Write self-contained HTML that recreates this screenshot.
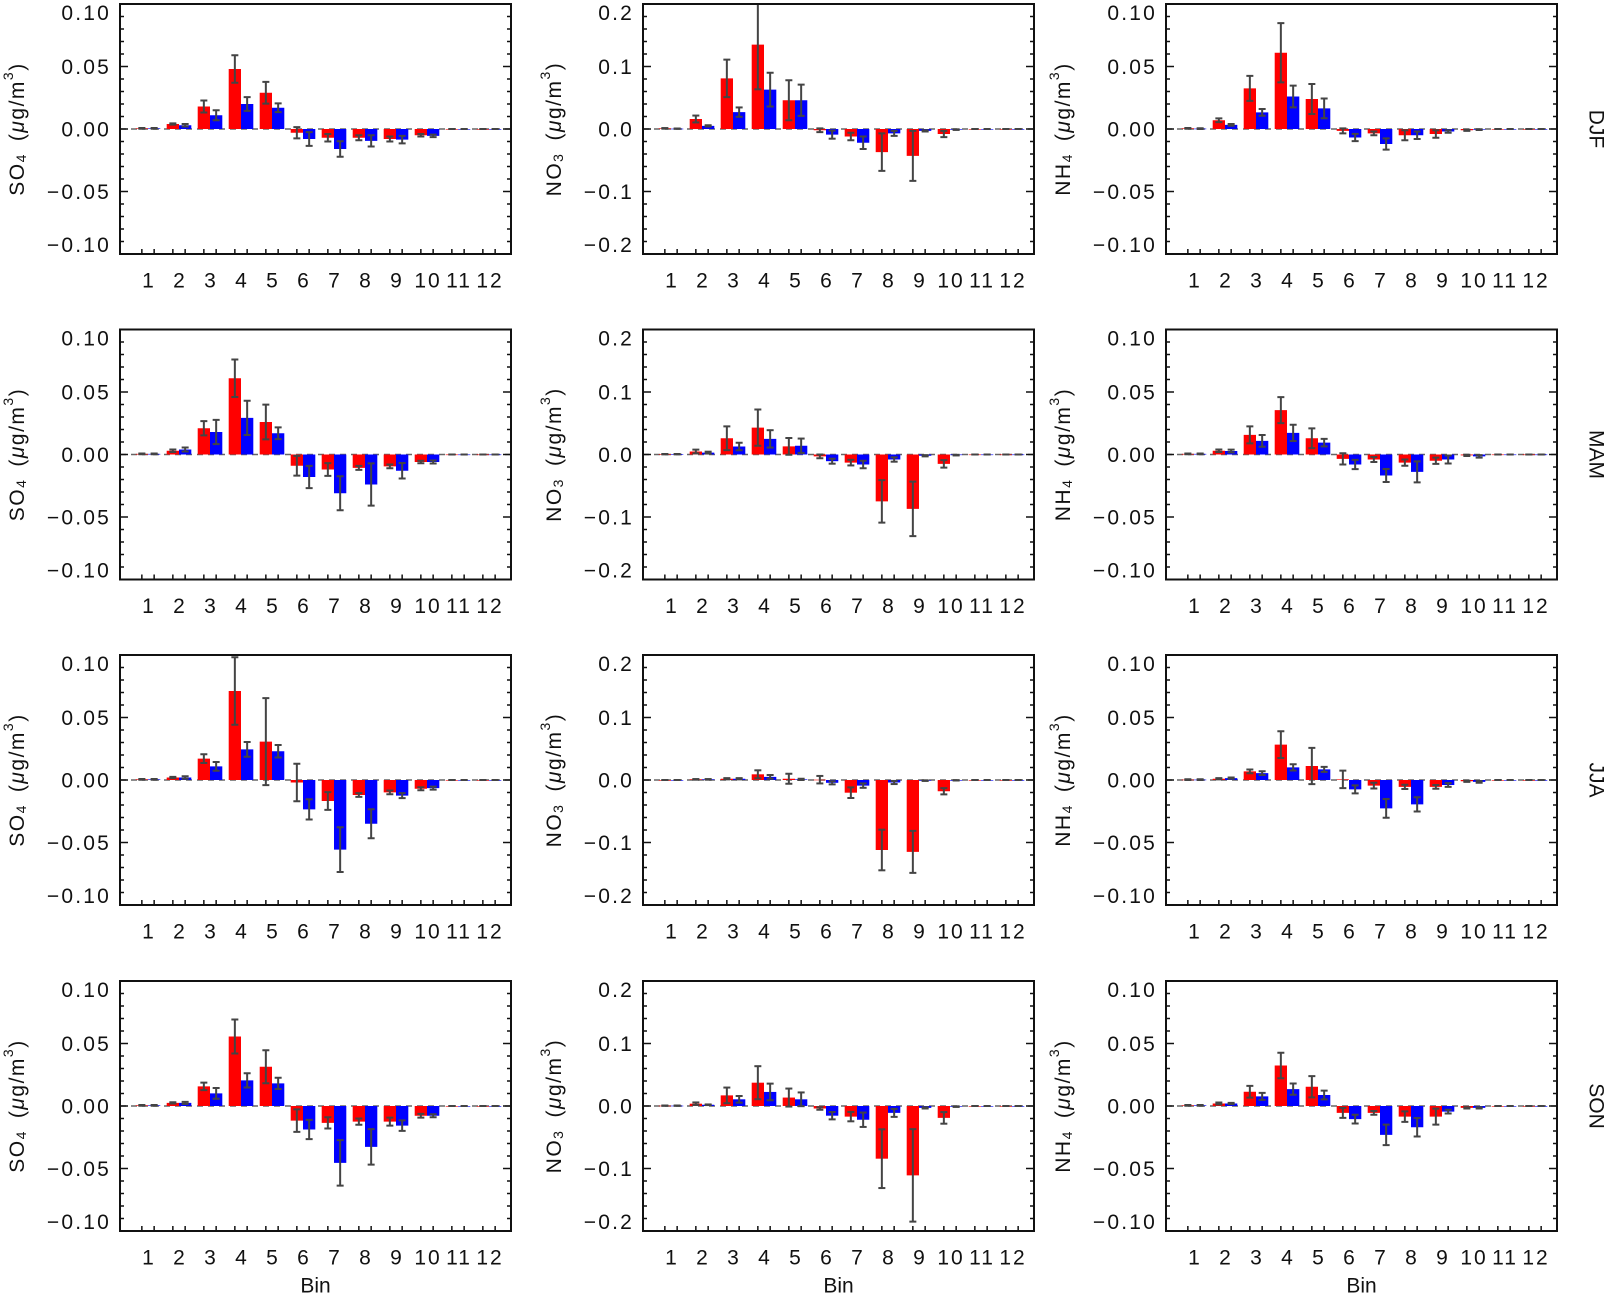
<!DOCTYPE html>
<html><head><meta charset="utf-8"><title>Bin differences by season</title>
<style>
html,body{margin:0;padding:0;background:#fff;}
svg{display:block;font-family:"Liberation Sans",Arial,sans-serif;}
</style></head>
<body>
<svg id="fig" width="1606" height="1295" viewBox="0 0 1606 1295" xmlns="http://www.w3.org/2000/svg"></svg>
<script>
// ---- data (12 bins each) ----
const bins = ["1","2","3","4","5","6","7","8","9","10","11","12"];
const seasons = ["DJF","MAM","JJA","SON"];
const species = ["SO4","NO3","NH4"];
const ticksSmall = [0.10,0.05,0.00,-0.05,-0.10];
const tickLabelsSmall = ["0.10","0.05","0.00","\u22120.05","\u22120.10"];
const ticksLarge = [0.2,0.1,0.0,-0.1,-0.2];
const tickLabelsLarge = ["0.2","0.1","0.0","\u22120.1","\u22120.2"];

const djfSo4Red = [.0005,.004,.018,.048,.029,-.003,-.007,-.007,-.008,-.005,0,0];
const djfSo4RedErr = [.0003,.0005,.0048,.011,.0087,.0045,.003,.002,.002,.001,0,0];
const djfSo4Blue = [.0005,.003,.011,.020,.017,-.008,-.016,-.0095,-.0085,-.0055,0,0];
const djfSo4BlueErr = [.0003,.001,.004,.0055,.0035,.0055,.0062,.0045,.003,.001,0,0];

const djfNo3Red = [.001,.016,.081,.135,.046,-.002,-.012,-.037,-.043,-.008,0,0];
const djfNo3RedErr = [.0005,.0055,.030,.0715,.032,.003,.006,.030,.040,.005,0,0];
const djfNo3Blue = [.0005,.005,.027,.063,.046,-.009,-.022,-.007,-.003,-.001,0,0];
const djfNo3BlueErr = [.0003,.001,.0075,.027,.025,.0065,.010,.004,.001,.0005,0,0];

const djfNh4Red = [.0005,.007,.0325,.061,.024,-.0015,-.0035,-.005,-.004,-.001,0,0];
const djfNh4RedErr = [.0003,.0015,.010,.0237,.012,.002,.0015,.004,.003,.0005,0,0];
const djfNh4Blue = [.0003,.0033,.0133,.026,.0165,-.0068,-.012,-.005,-.002,-.0005,0,0];
const djfNh4BlueErr = [.0003,.0007,.0027,.0087,.0079,.0029,.0045,.003,.001,.0003,0,0];

const mamSo4Red = [.0005,.003,.021,.061,.026,-.009,-.012,-.0107,-.0095,-.006,0,0];
const mamSo4RedErr = [.0003,.001,.0057,.015,.0139,.0079,.0051,.0016,.0015,.001,0,0];
const mamSo4Blue = [.0005,.004,.018,.0293,.017,-.018,-.031,-.024,-.013,-.006,0,0];
const mamSo4BlueErr = [.0003,.0016,.0097,.0137,.0047,.0089,.0136,.0169,.0062,.0012,0,0];

const mamNo3Red = [.0005,.0048,.026,.043,.013,-.003,-.013,-.075,-.087,-.015,0,0];
const mamNo3RedErr = [.0003,.003,.019,.029,.0134,.003,.0045,.034,.0436,.006,0,0];
const mamNo3Blue = [.0005,.003,.0128,.025,.014,-.0107,-.016,-.008,-.002,-.001,0,0];
const mamNo3BlueErr = [.0003,.0015,.006,.0139,.0115,.004,.006,.0035,.001,.0005,0,0];

const mamNh4Red = [.0005,.003,.0157,.0355,.013,-.0035,-.004,-.0065,-.005,-.0007,0,0];
const mamNh4RedErr = [.0003,.001,.0068,.0104,.0079,.0045,.002,.0025,.0025,.0005,0,0];
const mamNh4Blue = [.0005,.0028,.0109,.0173,.0095,-.008,-.0168,-.0139,-.004,-.0015,0,0];
const mamNh4BlueErr = [.0003,.0011,.0047,.0065,.003,.0037,.0052,.0084,.0032,.001,0,0];

const jjaSo4Red = [.0005,.002,.0171,.0712,.0307,-.002,-.0168,-.012,-.0099,-.007,0,0];
const jjaSo4RedErr = [.0003,.0005,.0035,.027,.0348,.015,.0071,.0015,.0015,.0012,0,0];
const jjaSo4Blue = [.0005,.002,.0109,.0245,.023,-.0235,-.0557,-.035,-.0125,-.0065,0,0];
const jjaSo4BlueErr = [.0003,.001,.0035,.0059,.005,.0081,.0179,.0116,.002,.0012,0,0];

const jjaNo3Red = [0,.001,.002,.0091,.002,.0005,-.0203,-.112,-.115,-.018,0,0];
const jjaNo3RedErr = [0,.0005,.001,.0064,.008,.006,.0085,.0325,.0336,.005,0,0];
const jjaNo3Blue = [0,.001,.002,.005,.001,-.0045,-.009,-.004,-.001,-.0005,0,0];
const jjaNo3BlueErr = [0,.0005,.001,.003,.001,.0025,.0035,.0025,.0005,.0003,0,0];

const jjaNh4Red = [.0003,.001,.0069,.0283,.0112,.0005,-.0045,-.0055,-.0055,-.001,0,0];
const jjaNh4RedErr = [.0003,.0005,.0015,.0107,.0145,.007,.0023,.0017,.0015,.0005,0,0];
const jjaNh4Blue = [.0003,.0015,.0055,.0101,.0085,-.0075,-.0227,-.0195,-.004,-.0015,0,0];
const jjaNh4BlueErr = [.0003,.0005,.0015,.0025,.002,.0032,.0075,.0057,.0015,.0007,0,0];

const sonSo4Red = [.0005,.0025,.0157,.0556,.0314,-.0117,-.0135,-.0125,-.0125,-.0078,0,0];
const sonSo4RedErr = [.0003,.0005,.003,.0136,.0132,.009,.0045,.0025,.0032,.0015,0,0];
const sonSo4Blue = [.0005,.0025,.0101,.0205,.0181,-.0188,-.0455,-.0327,-.0157,-.0078,0,0];
const sonSo4BlueErr = [.0003,.0008,.0043,.0057,.0045,.0077,.0182,.0142,.0042,.0012,0,0];

const sonNo3Red = [.0005,.0037,.017,.0373,.0135,-.004,-.017,-.0843,-.111,-.019,0,0];
const sonNo3RedErr = [.0003,.002,.0125,.0264,.0144,.002,.0075,.047,.074,.0093,0,0];
const sonNo3Blue = [.0005,.002,.0107,.0225,.0107,-.0155,-.022,-.011,-.003,-.001,0,0];
const sonNo3BlueErr = [.0003,.0005,.0053,.0133,.011,.0059,.0115,.0064,.001,.0005,0,0];

const sonNh4Red = [.0005,.002,.0114,.0324,.0154,-.0055,-.0055,-.0085,-.0085,-.0015,0,0];
const sonNh4RedErr = [.0003,.0008,.0047,.0102,.0085,.004,.0015,.0042,.0064,.0005,0,0];
const sonNh4Blue = [.0005,.002,.0077,.0135,.0088,-.0105,-.0231,-.017,-.0045,-.0015,0,0];
const sonNh4BlueErr = [.0003,.0005,.0028,.0045,.0035,.0035,.0082,.0074,.0015,.0005,0,0];

const panelData = [
  [[djfSo4Red,djfSo4RedErr,djfSo4Blue,djfSo4BlueErr],[djfNo3Red,djfNo3RedErr,djfNo3Blue,djfNo3BlueErr],[djfNh4Red,djfNh4RedErr,djfNh4Blue,djfNh4BlueErr]],
  [[mamSo4Red,mamSo4RedErr,mamSo4Blue,mamSo4BlueErr],[mamNo3Red,mamNo3RedErr,mamNo3Blue,mamNo3BlueErr],[mamNh4Red,mamNh4RedErr,mamNh4Blue,mamNh4BlueErr]],
  [[jjaSo4Red,jjaSo4RedErr,jjaSo4Blue,jjaSo4BlueErr],[jjaNo3Red,jjaNo3RedErr,jjaNo3Blue,jjaNo3BlueErr],[jjaNh4Red,jjaNh4RedErr,jjaNh4Blue,jjaNh4BlueErr]],
  [[sonSo4Red,sonSo4RedErr,sonSo4Blue,sonSo4BlueErr],[sonNo3Red,sonNo3RedErr,sonNo3Blue,sonNo3BlueErr],[sonNh4Red,sonNh4RedErr,sonNh4Blue,sonNh4BlueErr]]
];

// ---- layout ----
const NS = "http://www.w3.org/2000/svg";
const svg = document.getElementById("fig");
const colX = [120, 643, 1166];
const rowY = [4, 329.5, 655, 981];
const W = 391, H = 250;
const BW = 12.3;

function mk(tag, attrs, parent) {
  const e = document.createElementNS(NS, tag);
  for (const k in attrs) e.setAttribute(k, attrs[k]);
  (parent || svg).appendChild(e);
  return e;
}

function drawPanel(r, c) {
  const x0 = colX[c], y0 = rowY[r];
  const big = (c === 1);
  const ymax = big ? 0.2 : 0.1;
  const ticks = big ? ticksLarge : ticksSmall;
  const labels = big ? tickLabelsLarge : tickLabelsSmall;
  const minorStep = big ? 0.02 : 0.01;
  const yS = v => y0 + H / 2 - v / ymax * (H / 2);
  const xC = i => x0 + 28 + i * 31;
  const g = mk("g", {});
  
  

  const cid = "clip" + r + "_" + c;
  const cp = mk("clipPath", {id: cid}, g);
  mk("rect", {x: x0, y: y0, width: W, height: H}, cp);
  const plot = mk("g", {"clip-path": "url(#" + cid + ")"}, g);

  const zl = mk("line", {x1: x0, x2: x0 + W, y1: yS(0), y2: yS(0), stroke: "#666", "stroke-width": 1.5, "stroke-dasharray": "6 5"}, plot);
  
  

  const d = panelData[r][c];
  const series = [[d[0], d[1], "#ff0000", -BW, "red"], [d[2], d[3], "#0000ff", 0, "blue"]];
  for (const s of series) {
    const vals = s[0];
    for (let i = 0; i < bins.length; i++) {
      const v = vals[i];
      const ya = yS(Math.max(v, 0)), yb = yS(Math.min(v, 0));
      const bar = mk("rect", {x: xC(i) + s[3], y: ya, width: BW, height: Math.max(yb - ya, 0.6), fill: s[2]}, plot);
      
      
    }
  }
  for (const s of series) {
    const vals = s[0], errs = s[1];
    for (let i = 0; i < bins.length; i++) {
      const cx = xC(i) + s[3] + BW / 2;
      const yt = yS(vals[i] + errs[i]), yb = yS(vals[i] - errs[i]);
      const eg = mk("g", {stroke: "#444", "stroke-width": 2}, plot);
      
      
      mk("line", {x1: cx, x2: cx, y1: yt, y2: yb}, eg);
      mk("line", {x1: cx - 3.5, x2: cx + 3.5, y1: yt, y2: yt}, eg);
      mk("line", {x1: cx - 3.5, x2: cx + 3.5, y1: yb, y2: yb}, eg);
    }
  }

  const fr = mk("rect", {x: x0, y: y0, width: W, height: H, fill: "none", stroke: "#111", "stroke-width": 2}, g);
  
  

  const tg = mk("g", {stroke: "#111", "stroke-width": 1.5}, g);
  
  
  const nMinor = Math.round(2 * ymax / minorStep);
  for (let k = 0; k <= nMinor; k++) {
    const v = -ymax + k * minorStep;
    const y = yS(v);
    const isMajor = ticks.some(t => Math.abs(t - v) < 1e-9);
    const len = isMajor ? 8 : 4;
    mk("line", {x1: x0, x2: x0 + len, y1: y, y2: y}, tg);
    mk("line", {x1: x0 + W, x2: x0 + W - len, y1: y, y2: y}, tg);
  }
  const xg = mk("g", {stroke: "#111", "stroke-width": 1.5}, g);
  
  
  for (let i = 0; i < bins.length; i++) {
    for (const off of [-BW / 2, BW / 2]) {
      mk("line", {x1: xC(i) + off, x2: xC(i) + off, y1: y0 + H, y2: y0 + H - 5}, xg);
    }
  }

  for (let k = 0; k < ticks.length; k++) {
    let dy = 1;
    if (k === 0) dy = 9.5;
    if (k === ticks.length - 1) dy = -8.5;
    const t = mk("text", {x: x0 - 9, y: yS(ticks[k]) + dy, "text-anchor": "end", "dominant-baseline": "central", "font-size": 21, "letter-spacing": 2.2, fill: "#111"}, g);
    t.textContent = labels[k];
    
    
  }
  for (let i = 0; i < bins.length; i++) {
    const t = mk("text", {x: xC(i) + 1, y: y0 + H + 27, "text-anchor": "middle", "dominant-baseline": "central", "font-size": 21, "letter-spacing": 2, fill: "#111"}, g);
    t.textContent = bins[i];
    
    
  }
  const tx = x0 - (big ? 89 : 103), ty = y0 + H / 2;
  const yt = mk("text", {x: tx, y: ty, "text-anchor": "middle", "dominant-baseline": "central", "font-size": 21, "letter-spacing": 1.5, fill: "#111", transform: "rotate(-90 " + tx + " " + ty + ")"}, g);
  
  
  const sp = species[c];
  const a = mk("tspan", {}, yt); a.textContent = sp.slice(0, 2);
  const b = mk("tspan", {"font-size": 14, dy: 4}, yt); b.textContent = sp.slice(2);
  const c1 = mk("tspan", {dy: -4}, yt); c1.textContent = "\u2002(";
  const mu = mk("tspan", {"font-style": "italic"}, yt); mu.textContent = "\u03bc";
  const c2 = mk("tspan", {}, yt); c2.textContent = "g/m";
  const c3 = mk("tspan", {"font-size": 14, dy: -9}, yt); c3.textContent = "3";
  const c4 = mk("tspan", {dy: 9}, yt); c4.textContent = ")";

  if (r === 3) {
    const bt = mk("text", {x: x0 + W / 2, y: y0 + H + 55, "text-anchor": "middle", "dominant-baseline": "central", "font-size": 21, fill: "#111"}, g);
    bt.textContent = "Bin";
    
    
  }
  if (c === 2) {
    const sx = 1596, sy = y0 + H / 2;
    const st = mk("text", {x: sx, y: sy, "text-anchor": "middle", "dominant-baseline": "central", "font-size": 21, fill: "#111", transform: "rotate(90 " + sx + " " + sy + ")"}, g);
    st.textContent = seasons[r];
    
    
  }
}

for (let r = 0; r < 4; r++) for (let c = 0; c < 3; c++) drawPanel(r, c);
</script>
</body></html>
